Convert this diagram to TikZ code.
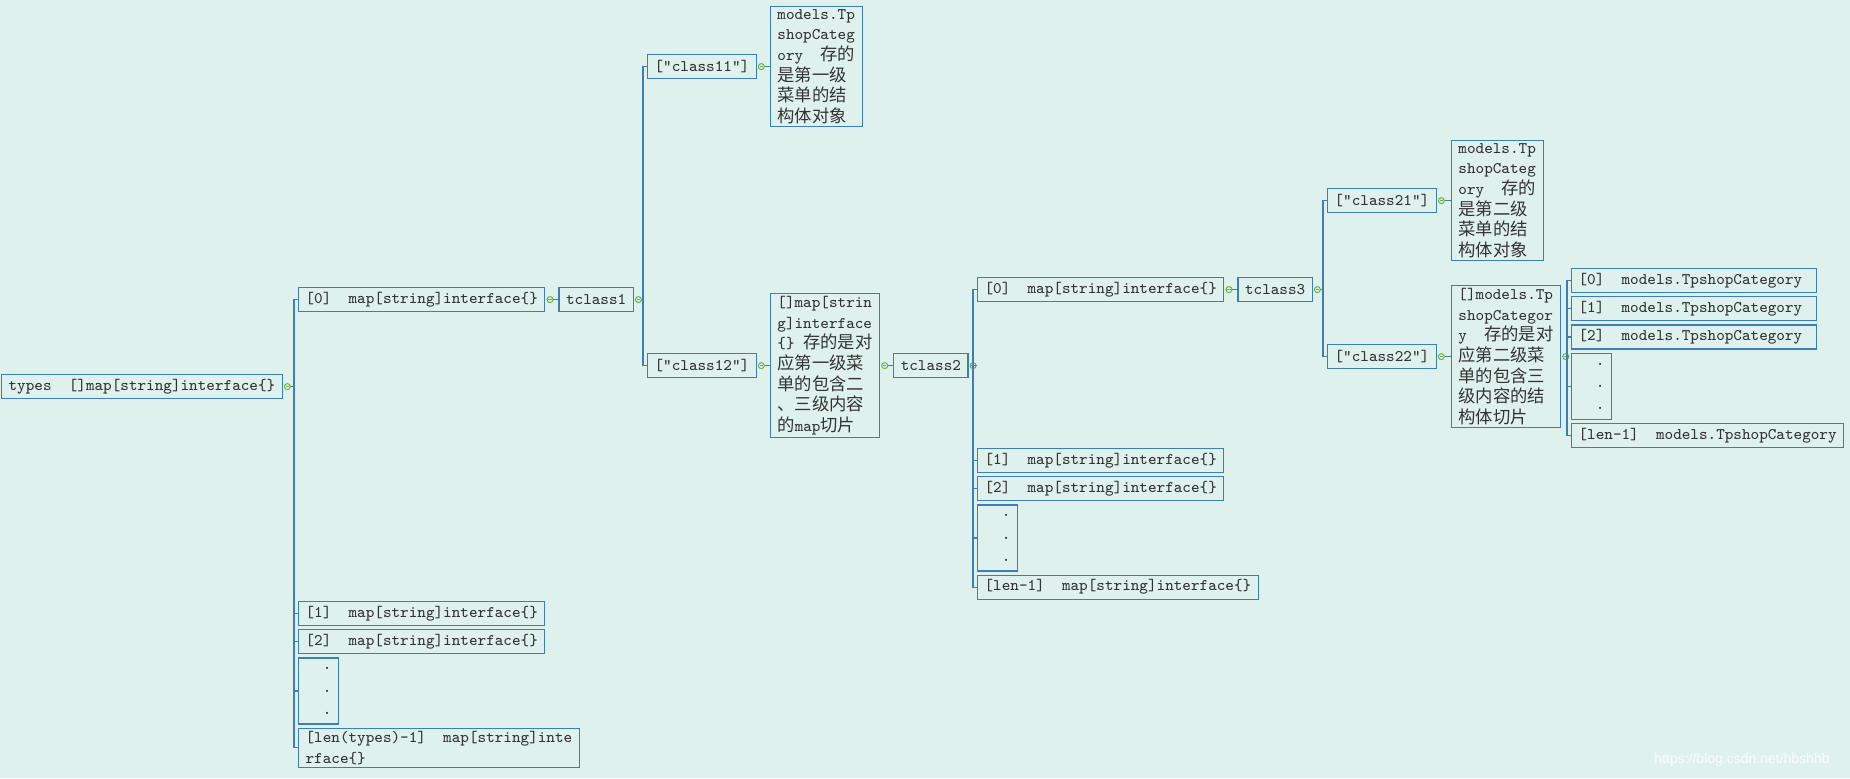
\documentclass[tikz,border=0pt]{standalone}
\usepackage{fontspec}
\usepackage{xcolor}
\usetikzlibrary{positioning}
\newfontfamily\zh{Noto Sans CJK SC}[Scale=1.07]
\newfontfamily\marksans{Liberation Sans}
\definecolor{paper}{HTML}{DFF1EC}
\definecolor{frame}{HTML}{3E7EB8}
\definecolor{knobgreen}{HTML}{6CB33F}
\definecolor{ink}{HTML}{333333}

\begin{document}
\begin{tikzpicture}[x=0.5pt,y=-0.5pt,
    every node/.style={font=\fontsize{8.1}{10.3}\selectfont\ttfamily,text=ink},
    entry/.style={draw=frame,line width=0.6pt,inner xsep=3.5pt,inner ysep=1.5pt,
                  minimum height=12pt,align=left},
    dotbox/.style={entry,minimum height=33pt},
    knob/.style={circle,draw=knobgreen,line width=0.5pt,fill=paper,minimum size=3pt,inner sep=0pt,
                 path picture={\draw[knobgreen,line width=0.4pt]
                   ([xshift=0.6pt]path picture bounding box.west) -- ([xshift=-0.6pt]path picture bounding box.east);}},
    link/.style={frame,line width=0.55pt},
    fork/.style={to path={(\tikztostart.east) -| ([xshift=-2pt]\tikztotarget.west) -- (\tikztotarget.west)}}]

\fill[paper] (0,0) rectangle (1850,778);
\useasboundingbox (0,0) rectangle (1850,778);

\node[entry,anchor=north west] (1) at (1,374) {types~~[]map[string]interface\{\}};
\node[entry,anchor=north west] (2) at (298,287) {[0]~~map[string]interface\{\}};
\node[entry] (3) [right=6.5pt of 2] {tclass1};
\node[entry,anchor=north west] (4) at (647,54) {["class11"]};
\node[entry] (5) [right=6.5pt of 4] {models.Tp\\shopCateg\\ory~~{\zh 存的}\\{\zh 是第一级}\\{\zh 菜单的结}\\{\zh 构体对象}};
\node[entry,anchor=north west] (6) at (647,353) {["class12"]};
\node[entry] (7) [right=6.5pt of 6] {[]map[strin\\g]interface\\\{\}~{\zh 存的是对}\\{\zh 应第一级菜}\\{\zh 单的包含二}\\{\zh 、三级内容}\\{\zh 的}map{\zh 切片}};
\node[entry] (8) [right=6.5pt of 7] {tclass2};

\node[entry,anchor=north west] (9) at (977,277) {[0]~~map[string]interface\{\}};
\node[entry] (10) [right=6.5pt of 9] {tclass3};
\node[entry,anchor=north west] (11) at (1327,188) {["class21"]};
\node[entry] (12) [right=7pt of 11] {models.Tp\\shopCateg\\ory~~{\zh 存的}\\{\zh 是第二级}\\{\zh 菜单的结}\\{\zh 构体对象}};
\node[entry,anchor=north west] (13) at (1327,344) {["class22"]};
\node[entry] (14) [right=7pt of 13] {[]models.Tp\\shopCategor\\y~~{\zh 存的是对}\\{\zh 应第二级菜}\\{\zh 单的包含三}\\{\zh 级内容的结}\\{\zh 构体切片}};

\node[entry,anchor=north west] (15) at (1571,268) {[0]~~models.TpshopCategory\kern3.5pt};
\node[entry,below=1.5pt of 15.south west,anchor=north west] (16) {[1]~~models.TpshopCategory\kern3.5pt};
\node[entry,below=1.5pt of 16.south west,anchor=north west] (17) {[2]~~models.TpshopCategory\kern3.5pt};
\node[dotbox,below=1.5pt of 17.south west,anchor=north west] (18) {\hphantom{00}.\\[0.8pt]\hphantom{00}.\\[0.8pt]\hphantom{00}.};
\node[entry,below=1.5pt of 18.south west,anchor=north west] (19) {[len-1]~~models.TpshopCategory};

\node[entry,anchor=north west] (20) at (977,448) {[1]~~map[string]interface\{\}};
\node[entry,below=1.5pt of 20.south west,anchor=north west] (21) {[2]~~map[string]interface\{\}};
\node[dotbox,below=1.5pt of 21.south west,anchor=north west] (22) {\hphantom{00}.\\[0.8pt]\hphantom{00}.\\[0.8pt]\hphantom{00}.};
\node[entry,below=1.5pt of 22.south west,anchor=north west] (23) {[len-1]~~map[string]interface\{\}};

\node[entry,anchor=north west] (24) at (298,601) {[1]~~map[string]interface\{\}};
\node[entry,below=1.5pt of 24.south west,anchor=north west] (25) {[2]~~map[string]interface\{\}};
\node[dotbox,below=1.5pt of 25.south west,anchor=north west] (26) {\hphantom{00}.\\[0.8pt]\hphantom{00}.\\[0.8pt]\hphantom{00}.};
\node[entry,below=1.5pt of 26.south west,anchor=north west] (27) {[len(types)-1]~~map[string]inte\\rface\{\}};

\node[knob] (1o) [right=0.5pt of 1] {};
\node[knob] (2o) [right=0.5pt of 2] {};
\node[knob] (3o) [right=0.5pt of 3] {};
\node[knob] (4o) [right=0.5pt of 4] {};
\node[knob] (6o) [right=0.5pt of 6] {};
\node[knob] (7o) [right=0.5pt of 7] {};
\node[knob] (8o) [right=0.5pt of 8] {};
\node[knob] (9o) [right=0.5pt of 9] {};
\node[knob] (10o) [right=0.5pt of 10] {};
\node[knob] (11o) [right=0.5pt of 11] {};
\node[knob] (13o) [right=0.5pt of 13] {};
\node[knob] (14o) [right=0.5pt of 14] {};

\path[link]
  (1o) edge[fork] (2)
       edge[fork] (24)
       edge[fork] (25)
       edge[fork] (26)
       edge[fork] (27)
  (2o) edge[fork] (3)
  (3o) edge[fork] (4)
       edge[fork] (6)
  (4o) edge[fork] (5)
  (6o) edge[fork] (7)
  (7o) edge[fork] (8)
  (8o) edge[fork] (9)
       edge[fork] (20)
       edge[fork] (21)
       edge[fork] (22)
       edge[fork] (23)
  (9o) edge[fork] (10)
  (10o) edge[fork] (11)
        edge[fork] (13)
  (11o) edge[fork] (12)
  (13o) edge[fork] (14)
  (14o) edge[fork] (15)
        edge[fork] (16)
        edge[fork] (17)
        edge[fork] (18)
        edge[fork] (19);

\node[font=\marksans\fontsize{7}{8}\selectfont,text=white,opacity=0.85] (mark) at (1742,760) {https://blog.csdn.net/hbshhb};
\end{tikzpicture}
\end{document}
